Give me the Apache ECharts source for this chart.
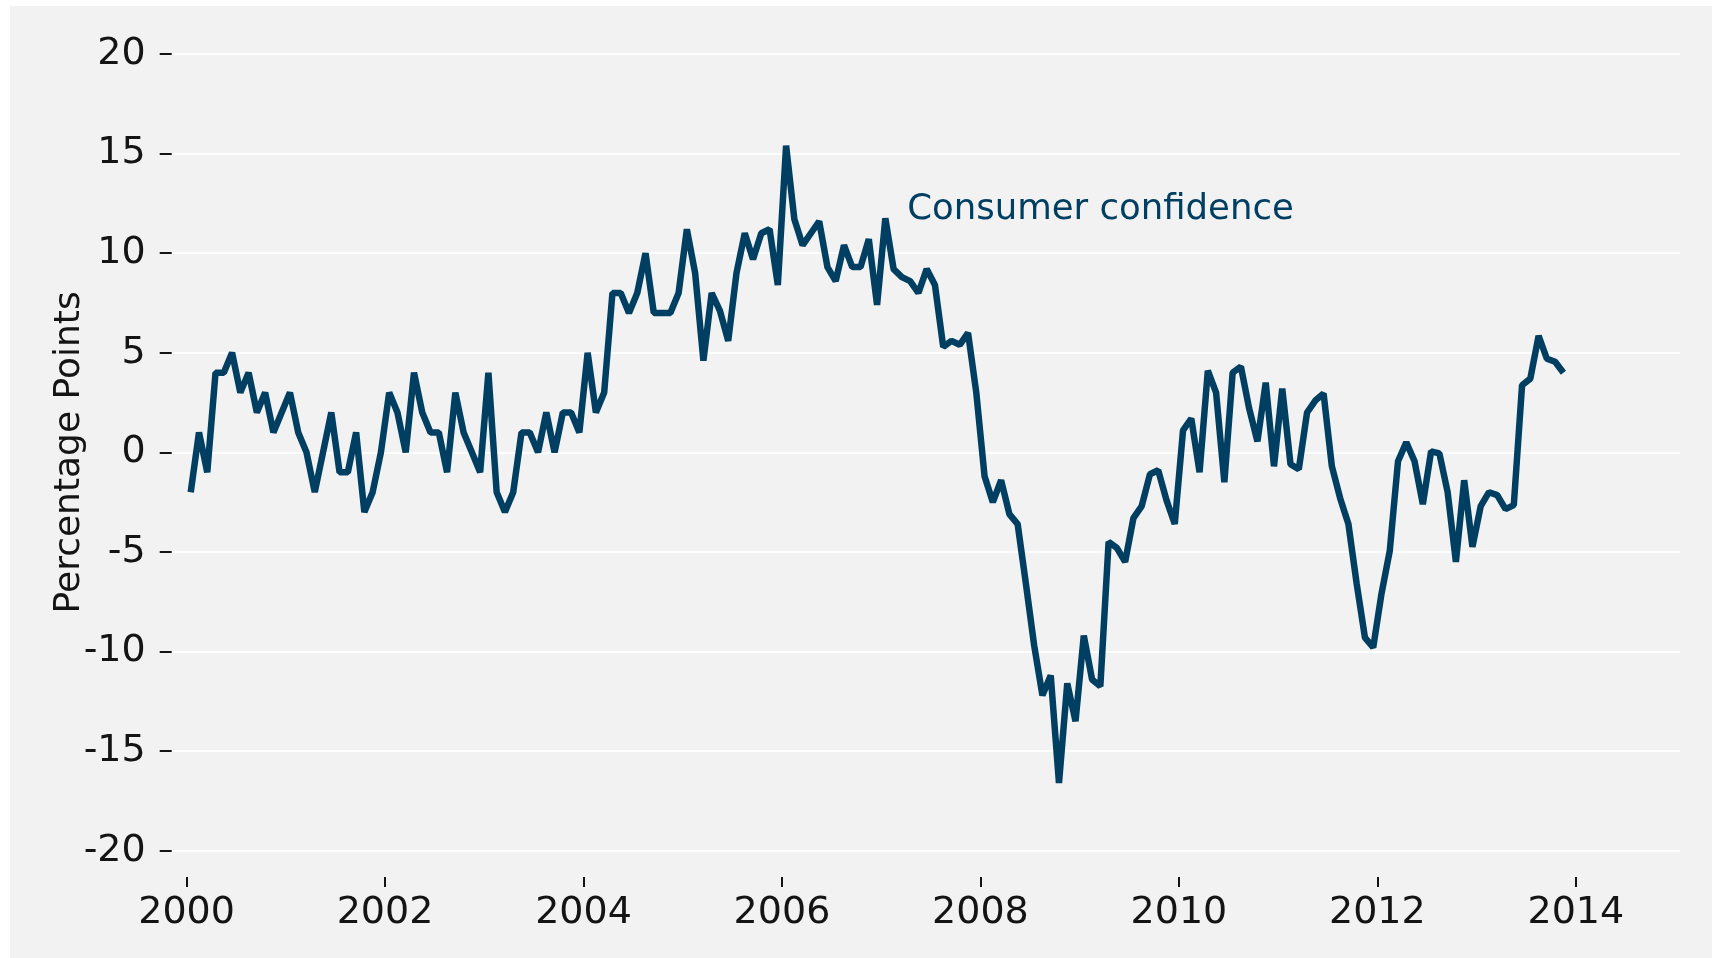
<!DOCTYPE html>
<html>
<head>
<meta charset="utf-8">
<title>Consumer confidence</title>
<script src="https://cdn.jsdelivr.net/npm/echarts@6/dist/echarts.min.js"></script>
<style>
  html, body { margin: 0; padding: 0; background: #fff; }
  #chart {
    position: absolute;
    left: 10px;
    top: 6px;
    width: 1702px;
    height: 952px;
    background: #f2f2f2;
  }
</style>
</head>
<body>
<div id="chart"></div>
<script>
// monthly series, Jan 2000 .. Nov 2013
var startYear = 2000;
var confidence = [
  -2, 1, -1, 4, 4, 5, 3, 4, 2, 3, 1, 2,
  3, 1, 0, -2, 0, 2, -1, -1, 1, -3, -2, 0,
  3, 2, 0, 4, 2, 1, 1, -1, 3, 1, 0, -1,
  4, -2, -3, -2, 1, 1, 0, 2, 0, 2, 2, 1,
  5, 2, 3, 8, 8, 7, 8, 10, 7, 7, 7, 8,
  11.2, 9, 4.6, 8, 7.1, 5.6, 9, 11, 9.7, 11, 11.2, 8.4,
  15.4, 11.7, 10.4, 11, 11.6, 9.3, 8.6, 10.4, 9.3, 9.3, 10.7, 7.4,
  11.75, 9.2, 8.8, 8.6, 8.0, 9.2, 8.4, 5.3, 5.6, 5.4, 6.0, 3.0,
  -1.2, -2.5, -1.4, -3.1, -3.6, -6.6, -9.7, -12.2, -11.2, -16.6, -11.6, -13.5,
  -9.2, -11.4, -11.75, -4.5, -4.8, -5.5, -3.3, -2.7, -1.1, -0.9, -2.4, -3.6,
  1.1, 1.7, -1.0, 4.1, 3.0, -1.5, 4.0, 4.3, 2.2, 0.55, 3.5, -0.7,
  3.2, -0.6, -0.85, 2.0, 2.6, 2.95, -0.7, -2.3, -3.6, -6.6, -9.3, -9.8,
  -7.1, -4.95, -0.45, 0.5, -0.45, -2.6, 0.05, -0.05, -2.0, -5.5, -1.4, -4.75,
  -2.7, -2.0, -2.15, -2.85, -2.65, 3.37, 3.7, 5.85, 4.7, 4.55, 4.0
];
var yearTicks = [2000, 2002, 2004, 2006, 2008, 2010, 2012, 2014];
var seriesName = 'Consumer confidence';
var labelAt = [2009.21, 12.16];

var lineColor = '#003f62';
var textColor = '#141414';
var fontFamily = '"DejaVu Sans", sans-serif';

// mid-month positions on a decimal-year axis
var points = [];
for (var i = 0; i < confidence.length; i++) {
  points.push([startYear + (i + 0.5) / 12, confidence[i]]);
}

var myChart = echarts.init(document.getElementById('chart'));
var option = {
  backgroundColor: '#f2f2f2',
  animation: false,
  grid: {
    left: 161.7,
    right: 32,
    top: 48,
    bottom: 107.3
  },
  xAxis: {
    type: 'value',
    min: 1999.85,
    max: 2015.05,
    offset: 26.3,
    axisLine: { show: false, onZero: false },
    splitLine: { show: false },
    axisTick: {
      customValues: yearTicks,
      length: 10,
      lineStyle: { color: textColor, width: 2 }
    },
    axisLabel: {
      customValues: yearTicks,
      margin: 17,
      fontSize: 38,
      fontFamily: fontFamily,
      color: textColor,
      formatter: function (v) { return String(v); }
    }
  },
  yAxis: {
    type: 'value',
    min: -20,
    max: 20,
    interval: 5,
    name: 'Percentage Points',
    nameLocation: 'middle',
    nameGap: 84,
    nameMoveOverlap: false,
    nameTextStyle: {
      fontSize: 36,
      fontFamily: fontFamily,
      color: textColor
    },
    axisLine: { show: false },
    axisTick: {
      show: true,
      length: 12,
      lineStyle: { color: textColor, width: 2 }
    },
    axisLabel: {
      margin: 26,
      fontSize: 38,
      fontFamily: fontFamily,
      color: textColor
    },
    splitLine: {
      lineStyle: { color: '#ffffff', width: 2 }
    }
  },
  series: [
    {
      name: seriesName,
      type: 'line',
      data: points,
      showSymbol: false,
      lineStyle: { color: lineColor, width: 6.5 },
      markPoint: {
        symbolSize: 0,
        silent: true,
        data: [{
          coord: labelAt,
          label: {
            show: true,
            position: 'inside',
            formatter: seriesName,
            fontSize: 35.5,
            fontFamily: fontFamily,
            color: lineColor
          }
        }]
      }
    }
  ]
};
myChart.setOption(option, true);
window.onresize = myChart.resize;
</script>
</body>
</html>
